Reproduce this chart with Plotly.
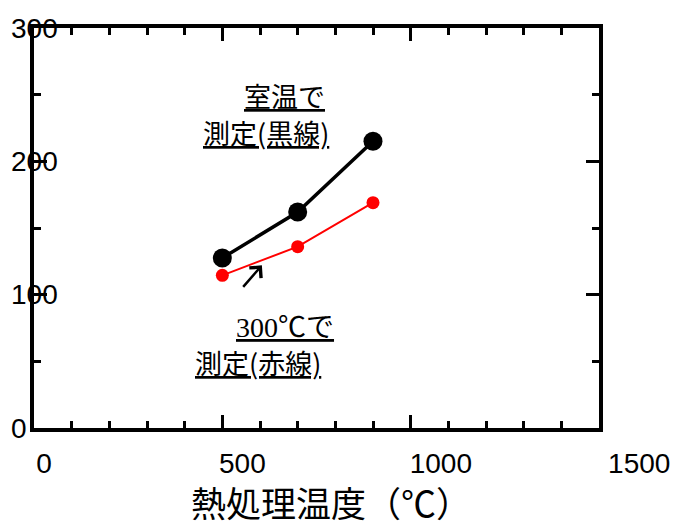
import plotly.graph_objects as go

# ---- data ----
temps = [500, 700, 900]                 # heat-treatment temperature (°C)
strength_room = [127.5, 162, 215]       # measured at room temperature (black)
strength_300 = [114.5, 136, 169]        # measured at 300 °C (red)
x_ticks = [0, 500, 1000, 1500]
y_ticks = [0, 100, 200, 300]
x_title = "熱処理温度（℃）"
note_black = ["室温で", "測定(黒線)"]
note_red = ["300℃で", "測定(赤線)"]

W, H = 673, 524
ML, MR, MT, MB = 1, 1, 28, 96
PW = W - ML - MR


def px(p):
    return (p - ML) / PW


def py(p):
    return 1 - (p - MT) / (H - MT - MB)


fig = go.Figure()
fig.add_trace(go.Scatter(x=temps, y=strength_300, mode="lines+markers",
                         line=dict(color="#ff0000", width=2),
                         marker=dict(color="#ff0000", size=13),
                         showlegend=False, hoverinfo="skip"))
fig.add_trace(go.Scatter(x=temps, y=strength_room, mode="lines+markers",
                         line=dict(color="black", width=3.5),
                         marker=dict(color="black", size=19),
                         showlegend=False, hoverinfo="skip"))
# empty helper traces so the label-only axes are drawn
fig.add_trace(go.Scatter(x=[], y=[], xaxis="x2", yaxis="y", showlegend=False))
fig.add_trace(go.Scatter(x=[], y=[], xaxis="x", yaxis="y2", showlegend=False))

tickfont = dict(family="Liberation Sans, Arial, sans-serif", size=28, color="black")
axis_common = dict(showline=True, linecolor="black", linewidth=4, mirror="ticks",
                   ticks="inside", tickcolor="black", tickwidth=3, ticklen=13,
                   showgrid=False, zeroline=False, showticklabels=False,
                   automargin=False)

# label axis mapping (pixel = a + b * value)
LA, LB = 44.0, 0.3968

fig.update_layout(
    template="none",
    width=W, height=H,
    margin=dict(l=ML, r=MR, t=MT, b=MB),
    paper_bgcolor="white", plot_bgcolor="rgba(0,0,0,0)",
    xaxis=dict(domain=[px(34), px(599)], range=[0, 1500], dtick=500, tick0=0,
               minor=dict(dtick=100, ticks="inside", ticklen=7, tickwidth=3, tickcolor="black"),
               **axis_common),
    yaxis=dict(domain=[0, 1], range=[0, 300], dtick=100, tick0=0,
               minor=dict(dtick=50, ticks="inside", ticklen=7, tickwidth=3, tickcolor="black"),
               **axis_common),
    xaxis2=dict(domain=[px(34), 1.0], anchor="y",
                range=[(34 - LA) / LB, (672 - LA) / LB],
                tickvals=x_ticks, ticktext=[str(v) for v in x_ticks],
                showline=False, ticks="", showgrid=False, zeroline=False,
                tickfont=tickfont, ticklabelstandoff=16, automargin=False),
    yaxis2=dict(overlaying="y", anchor="free", position=px(10), side="right",
                range=[0, 300], tickvals=y_ticks, ticktext=[str(v) for v in y_ticks],
                showline=False, ticks="", showgrid=False, zeroline=False,
                tickfont=tickfont, automargin=False),
    showlegend=False,
)

# x-axis title
fig.add_annotation(xref="paper", yref="paper", x=px(331), y=py(501), text=x_title,
                   showarrow=False, xanchor="center", yanchor="middle", borderpad=0,
                   font=dict(family="Noto Sans CJK JP", size=35, color="black"))

serif_font = dict(family="Liberation Serif, Noto Sans CJK JP", size=28, color="black")
cjk_font = dict(family="Noto Sans CJK JP", size=27, color="black")
for text, cx, cy, fnt in [(note_black[0], 284, 95, cjk_font),
                          (note_black[1], 266, 132, cjk_font),
                          (note_red[0], 285, 327, serif_font),
                          (note_red[1], 258, 362, cjk_font)]:
    fig.add_annotation(xref="paper", yref="paper", x=px(cx), y=py(cy),
                       text="<u>" + text + "</u>", showarrow=False,
                       font=fnt, xanchor="center", yanchor="middle")

# arrow pointing to the red line
fig.add_annotation(xref="x", yref="y", x=605, y=122, ax=-20, ay=23,
                   axref="pixel", ayref="pixel", text="", showarrow=True,
                   arrowhead=4, arrowsize=1.2, arrowwidth=2.5, arrowcolor="black")

fig.write_html("out.html", config={"displayModeBar": False},
               post_script="document.body.style.margin='0';document.body.style.padding='0';")
